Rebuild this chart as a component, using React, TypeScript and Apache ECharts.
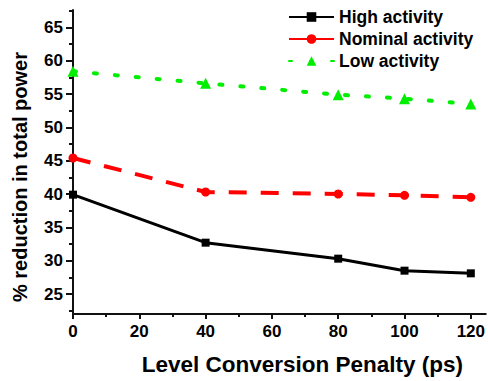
import React, { useEffect, useRef } from "react";
import * as echarts from "echarts";

const penalties = [0, 40, 80, 100, 120];
const highActivity = [39.9, 32.7, 30.3, 28.5, 28.1];
const nominalActivity = [45.4, 40.3, 40.0, 39.8, 39.5];
const lowActivity = [58.4, 56.6, 54.9, 54.3, 53.5];
const xMajorTicks = [0, 20, 40, 60, 80, 100, 120];
const xMinorTicks = [10, 30, 50, 70, 90, 110];
const yMajorTicks = [25, 30, 35, 40, 45, 50, 55, 60, 65];
const yMinorTicks = [22.5, 27.5, 32.5, 37.5, 42.5, 47.5, 52.5, 57.5, 62.5, 67.5];

const FONT = "'Liberation Sans', Arial, sans-serif";

export default function App() {
  const ref = useRef<HTMLDivElement>(null);
  useEffect(() => {
    if (!ref.current) return;
    const chart = echarts.init(ref.current, undefined, { renderer: "svg" });
    const axisLineStyle = { color: "#111", width: 2 };
    const pair = (arr: number[]) => arr.map((v, i) => [penalties[i], v]);
    chart.setOption({
      animation: false,
      backgroundColor: "#fff",
      textStyle: { fontFamily: FONT },
      grid: { left: 73, top: 10, right: 0, bottom: 66, containLabel: false },
      legend: {
        orient: "vertical",
        left: 283,
        top: 3,
        itemWidth: 45,
        itemHeight: 12,
        itemGap: 4,
        textStyle: { fontFamily: FONT, fontSize: 17.5, fontWeight: "bold", color: "#000", lineHeight: 17 },
        data: [
          { name: "High activity" },
          { name: "Nominal activity", lineStyle: { type: "solid" } },
          { name: "Low activity" },
        ],
      },
      xAxis: [
        {
          type: "value",
          position: "bottom",
          min: 0,
          max: 124.5,
          name: "Level Conversion Penalty (ps)",
          nameLocation: "middle",
          nameGap: 39,
          nameTextStyle: { fontFamily: FONT, fontSize: 22.5, fontWeight: "bold", color: "#000", padding: [0, 0, 0, 46] },
          axisLine: { show: true, lineStyle: axisLineStyle, onZero: false },
          axisTick: { show: true, inside: false, length: 5, customValues: xMajorTicks, lineStyle: { color: "#111", width: 2 } },
          axisLabel: { customValues: xMajorTicks, margin: 9, fontFamily: FONT, fontSize: 17, fontWeight: "bold", color: "#000" },
          splitLine: { show: false },
        },
        {
          type: "value",
          position: "bottom",
          offset: 0,
          min: 0,
          max: 124.5,
          axisLine: { show: false, onZero: false },
          axisTick: { show: true, length: 3, customValues: xMinorTicks, lineStyle: { color: "#111", width: 2 } },
          axisLabel: { show: false },
          splitLine: { show: false },
        },
      ],
      yAxis: [
        {
          type: "value",
          position: "left",
          min: 22,
          max: 67.6,
          name: "% reduction in total power",
          nameLocation: "middle",
          nameRotate: 90,
          nameGap: 43,
          nameTextStyle: { fontFamily: FONT, fontSize: 20, fontWeight: "bold", color: "#000", padding: [0, 30, 0, 0] },
          axisLine: { show: true, lineStyle: axisLineStyle, onZero: false },
          axisTick: { show: true, length: 7, customValues: yMajorTicks, lineStyle: { color: "#111", width: 2 } },
          axisLabel: { customValues: yMajorTicks, margin: 10, fontFamily: FONT, fontSize: 17, fontWeight: "bold", color: "#000" },
          splitLine: { show: false },
        },
        {
          type: "value",
          position: "left",
          offset: 0,
          min: 22,
          max: 67.6,
          axisLine: { show: false, onZero: false },
          axisTick: { show: true, length: 4, customValues: yMinorTicks, lineStyle: { color: "#111", width: 2 } },
          axisLabel: { show: false },
          splitLine: { show: false },
        },
      ],
      series: [
        {
          name: "High activity",
          type: "line",
          data: pair(highActivity),
          symbol: "rect",
          symbolSize: 8,
          itemStyle: { color: "#000" },
          lineStyle: { color: "#000", width: 3 },
          z: 3,
        },
        {
          name: "Nominal activity",
          type: "line",
          data: pair(nominalActivity),
          symbol: "circle",
          symbolSize: 9,
          itemStyle: { color: "#ff0000" },
          lineStyle: { color: "#ff0000", width: 4, type: [18, 14] },
          z: 3,
        },
        {
          name: "Low activity",
          type: "line",
          data: pair(lowActivity),
          symbol: "triangle",
          symbolSize: 11,
          itemStyle: { color: "#00ee00" },
          lineStyle: { color: "#00ee00", width: 4, type: [3, 18], cap: "round" },
          z: 3,
        },
      ],
    });
    return () => chart.dispose();
  }, []);
  return (
    <div
      ref={ref}
      style={{ position: "fixed", left: 0, top: 0, width: 488, height: 381, background: "#fff" }}
    />
  );
}
